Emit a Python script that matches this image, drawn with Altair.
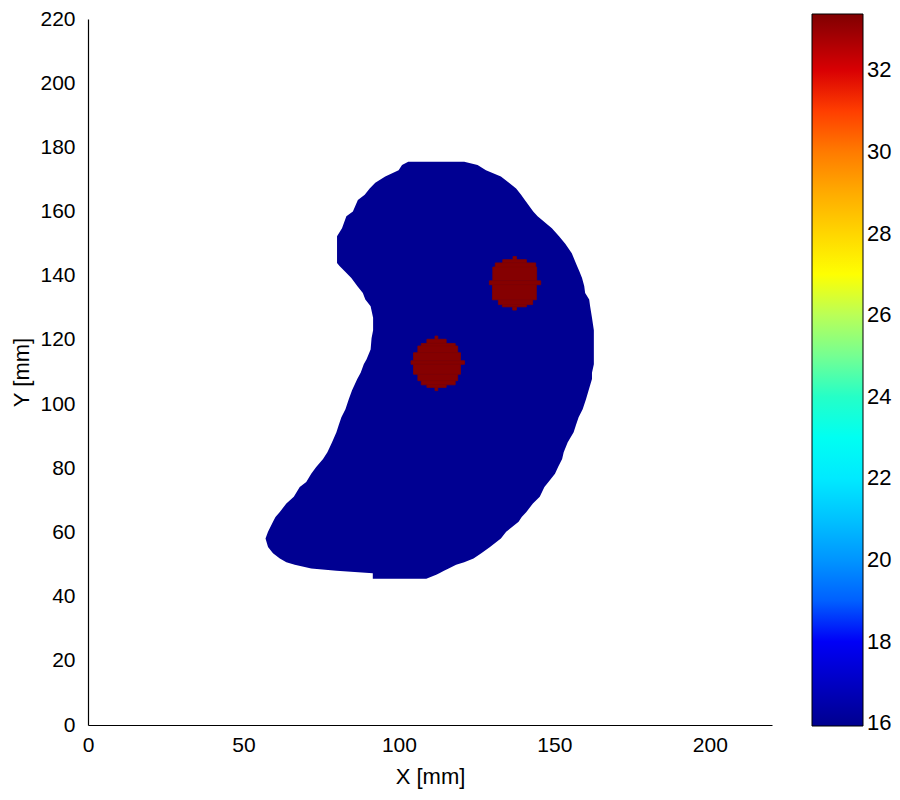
import altair as alt
import pandas as pd

# ---- kidney-shaped region (value 16): left / right edge per Y row [mm] ----
kid_y = [175.5, 174.5, 172.9, 170.9, 169.0, 167.2, 165.2, 163.6, 160.0, 158.5,
         154.8, 152.3, 150.0, 147.0, 144.0, 143.0, 141.5, 139.3, 136.8, 134.6,
         132.6, 130.5, 126.9, 123.0, 120.5, 117.0, 114.0, 112.4, 109.8, 107.8,
         104.2, 101.6, 98.4, 95.9, 93.3, 91.2, 88.1, 85.0, 82.9, 80.4,
         78.3, 75.7, 74.2, 71.1, 69.0, 66.4, 64.8, 63.3, 60.2, 58.1,
         55.5, 53.5, 51.9, 50.7, 49.9, 48.8, 48.1, 47.3, 46.8, 45.6]
kid_left = [103.0, 101.0, 99.9, 95.6, 92.4, 90.6, 89.0, 86.8, 85.2, 83.1,
            81.7, 80.1, 80.1, 80.1, 80.1, 80.9, 82.5, 84.7, 86.6, 88.4,
            89.2, 90.9, 91.7, 91.7, 91.2, 90.9, 89.6, 88.7, 87.7, 86.6,
            84.9, 83.9, 82.8, 81.5, 80.6, 79.9, 78.5, 77.0, 75.6, 73.4,
            71.8, 70.2, 68.1, 66.2, 63.8, 61.7, 60.3, 59.5, 57.9, 57.1,
            57.9, 59.5, 61.7, 63.8, 66.5, 71.8, 79.9, 91.6, 91.6, 91.6]
kid_right = [121.0, 125.3, 128.0, 132.8, 135.4, 137.7, 139.3, 140.5, 143.2, 144.6,
             149.2, 151.5, 153.5, 155.6, 156.9, 157.3, 158.0, 158.9, 159.6, 159.9,
             161.2, 161.5, 162.1, 162.7, 162.7, 162.7, 162.7, 162.7, 162.1, 162.1,
             161.0, 160.2, 159.1, 157.8, 156.9, 156.2, 154.3, 153.0, 152.5, 151.2,
             150.2, 148.1, 146.8, 145.3, 143.1, 141.0, 139.5, 138.5, 134.5, 132.8,
             129.3, 126.5, 124.0, 121.0, 118.4, 116.0, 114.5, 113.0, 112.0, 108.8]
kid_value = 16.0

# ---- two inclusions (value ~33.3): pixel rows y0..y1, x0..x1 [mm] ----
inc_y0 = [120.2, 118.9, 118.1, 116.0, 113.5, 112.4, 109.3, 107.3, 106.0, 105.2, 104.2,
          145.0, 144.0, 142.7, 138.4, 137.2, 132.5, 131.0, 130.3, 129.3]
inc_y1 = [121.2, 120.2, 118.9, 118.1, 116.0, 113.5, 112.4, 109.3, 107.3, 106.0, 105.2,
          146.0, 145.0, 144.0, 142.7, 138.4, 137.2, 132.5, 131.0, 130.3]
inc_x0 = [111.6, 109.0, 107.2, 106.1, 104.7, 103.9, 104.7, 106.1, 107.2, 109.0, 111.6,
          136.7, 133.4, 131.0, 130.2, 129.1, 130.1, 132.0, 133.3, 136.6]
inc_x1 = [112.5, 115.2, 118.1, 118.9, 119.8, 121.1, 119.8, 118.9, 118.1, 115.2, 112.5,
          137.8, 141.0, 144.0, 144.3, 145.6, 144.2, 143.0, 141.0, 137.8]
inc_value = 33.3

# ---- colour bar ----
cbar_min, cbar_max = 15.93, 33.38
cbar_ticks = [16, 18, 20, 22, 24, 26, 28, 30, 32]
x_ticks = [0, 50, 100, 150, 200]
y_ticks = [0, 20, 40, 60, 80, 100, 120, 140, 160, 180, 200, 220]

# MATLAB "jet" key colours and their relative positions
jet_colors = ["#00008f", "#0000ff", "#00ffff", "#ffff00", "#ff0000", "#800000"]
jet_pos = [0, 8 / 63, 24 / 63, 40 / 63, 56 / 63, 1]
jet_domain = [cbar_min + p * (cbar_max - cbar_min) for p in jet_pos]

kid = pd.DataFrame({"y": kid_y, "xl": kid_left, "xr": kid_right,
                    "v": [kid_value] * len(kid_y)})
inc = pd.DataFrame({"y0": inc_y0, "y1": inc_y1, "x0": inc_x0, "x1": inc_x1,
                    "v": [inc_value] * len(inc_y0)})

FONT = "Liberation Sans"

xscale = alt.Scale(domain=[0, 220], nice=False, zero=False)
yscale = alt.Scale(domain=[0, 220], nice=False, zero=False)
cscale = alt.Scale(domain=jet_domain, range=jet_colors)

xaxis = alt.Axis(title="X [mm]", values=x_ticks, ticks=False, tickSize=0, grid=False,
                 labelPadding=9, titlePadding=11, labelFontSize=21, titleFontSize=22,
                 labelFont=FONT, titleFont=FONT, titleFontWeight="normal",
                 labelColor="black", titleColor="black", domainColor="black",
                 domainWidth=1.2, labelFlush=False)
yaxis = alt.Axis(title="Y [mm]", values=y_ticks, ticks=False, tickSize=0, grid=False,
                 labelPadding=13, titlePadding=6, labelFontSize=21, titleFontSize=22,
                 labelFont=FONT, titleFont=FONT, titleFontWeight="normal",
                 labelColor="black", titleColor="black", domainColor="black",
                 domainWidth=1.2, labelFlush=False)

legend = alt.Legend(title=None, orient="none", legendX=724, legendY=-5,
                    direction="vertical", gradientLength=712, gradientThickness=51,
                    gradientStrokeColor="black", gradientStrokeWidth=1,
                    values=cbar_ticks, labelFontSize=22, labelFont=FONT,
                    labelColor="black", labelOffset=4, labelBaseline="middle",
                    labelOverlap=False, padding=0)

area = alt.Chart(kid).mark_area(orient="horizontal", interpolate="linear").encode(
    y=alt.Y("y:Q", scale=yscale, axis=yaxis),
    x=alt.X("xl:Q", scale=xscale, axis=xaxis),
    x2="xr:Q",
    color=alt.Color("v:Q", scale=cscale, legend=legend),
)

rects = alt.Chart(inc).mark_rect(stroke="#820000", strokeWidth=0.8).encode(
    x=alt.X("x0:Q", scale=xscale),
    x2="x1:Q",
    y=alt.Y("y0:Q", scale=yscale),
    y2="y1:Q",
    color=alt.Color("v:Q", scale=cscale, legend=legend),
)

chart = alt.layer(area, rects).properties(
    width=684, height=706,
    autosize=alt.AutoSizeParams(type="none"),
    padding={"left": 80, "top": 11, "right": 120, "bottom": 70},
    background="white",
).configure_view(stroke=None)

chart.save("out.html", embed_options={"renderer": "svg", "actions": False})
